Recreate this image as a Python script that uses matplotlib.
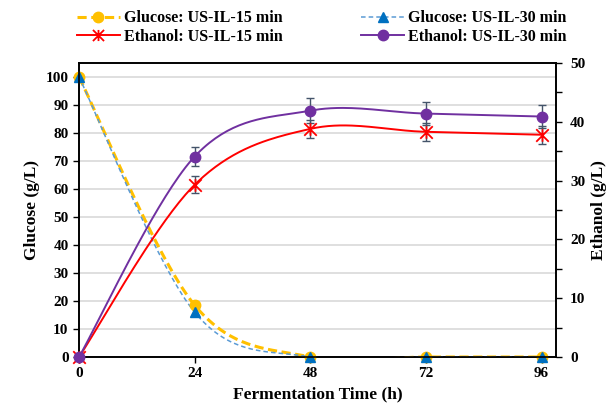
import numpy as np
import matplotlib.pyplot as plt
from matplotlib.path import Path

plt.rcParams['font.family'] = ['Liberation Serif', 'DejaVu Serif']
plt.rcParams['font.weight'] = 'bold'

time_h = [0, 24, 48, 72, 96]
glucose_15 = [100, 18.5, 0, 0, 0]
glucose_30 = [100, 16, 0, 0, 0]
ethanol_15 = [0, 29.3, 38.8, 38.3, 37.8]
ethanol_30 = [0, 34.1, 41.9, 41.4, 40.9]
ethanol_15_err = [0, 1.4, 1.5, 1.5, 1.5]
ethanol_30_err = [0, 1.6, 2.1, 2.0, 2.0]


def smooth(x, y, n=40):
    # excel-like smoothed line (catmull-rom through the points)
    p = np.column_stack([x, y]).astype(float)
    p = np.vstack([p[0], p, p[-1]])
    out = []
    t = np.linspace(0, 1, n)[:, None]
    for i in range(1, len(p) - 2):
        b0 = p[i]
        b3 = p[i + 1]
        b1 = b0 + (p[i + 1] - p[i - 1]) / 6
        b2 = b3 - (p[i + 2] - p[i]) / 6
        seg = (1 - t) ** 3 * b0 + 3 * (1 - t) ** 2 * t * b1 + 3 * (1 - t) * t ** 2 * b2 + t ** 3 * b3
        out.append(seg)
    out = np.vstack(out)
    return out[:, 0], out[:, 1]


# excel style "star" marker: X plus a vertical stroke
star = Path([(-1, -1), (1, 1), (-1, 1), (1, -1), (0, -1), (0, 1)],
            [Path.MOVETO, Path.LINETO, Path.MOVETO, Path.LINETO, Path.MOVETO, Path.LINETO])

fig = plt.figure(figsize=(6.14, 4.05), dpi=100)
ax = fig.add_axes([0.1287, 0.1185, 0.777, 0.7259])
ax2 = ax.twinx()

ax.set_xlim(0, 99)
ax.set_ylim(0, 105)
ax2.set_ylim(0, 50)

ax.set_yticks(range(0, 101, 10))
ax.yaxis.grid(True, color='#d9d9d9', lw=1.2)
ax.set_axisbelow(True)
ax.set_xticks(time_h)
ax2.set_yticks(range(0, 51, 10))
ax2.set_yticks(range(5, 50, 10), minor=True)

for a in (ax, ax2):
    a.tick_params(labelsize=11, width=1, length=4, direction='out')
    for s in a.spines.values():
        s.set_linewidth(1.2)
ax2.tick_params(which='major', pad=6)
ax2.tick_params(which='minor', length=4, width=1)

# glucose on left axis
xs, ys = smooth(time_h, glucose_15)
ax.plot(xs, ys, '--', color='#FFC000', lw=2.2, dashes=(3, 1.5), zorder=3)
ax.plot(time_h, glucose_15, 'o', color='#FFC000', ms=7.5, clip_on=False, zorder=4)
xs, ys = smooth(time_h, glucose_30)
ax.plot(xs, ys, '--', color='#5B9BD5', lw=1.1, dashes=(3, 2), zorder=3)
ax.plot(time_h, glucose_30, '^', color='#0070C0', ms=7.5, clip_on=False, zorder=5)

# ethanol on right axis
xs, ys = smooth(time_h, ethanol_15)
ax2.plot(xs, ys, '-', color='#FF0000', lw=1.4, zorder=3)
ax2.errorbar(time_h, ethanol_15, yerr=ethanol_15_err, fmt='none', ecolor='#44546A',
             elinewidth=1, capsize=3, capthick=1, zorder=2)
ax2.plot(time_h, ethanol_15, marker=star, ls='none', color='#FF0000', mec='#FF0000',
         ms=9, mew=1.3, clip_on=False, zorder=4)
xs, ys = smooth(time_h, ethanol_30)
ax2.plot(xs, ys, '-', color='#7030A0', lw=1.4, zorder=3)
ax2.errorbar(time_h, ethanol_30, yerr=ethanol_30_err, fmt='none', ecolor='#44546A',
             elinewidth=1, capsize=3, capthick=1, zorder=2)
ax2.plot(time_h, ethanol_30, 'o', color='#7030A0', ms=7.5, clip_on=False, zorder=4)

ax.set_xlabel('Fermentation Time (h)', fontsize=12.5, fontweight='bold')
ax.set_ylabel('Glucose (g/L)', fontsize=12.5, fontweight='bold')
ax2.set_ylabel('Ethanol (g/L)', fontsize=12.5, fontweight='bold')

h1 = plt.Line2D([], [], ls='--', dashes=(3, 1.5), color='#FFC000', lw=2.2, marker='o', ms=7.5)
h2 = plt.Line2D([], [], ls='-', color='#FF0000', lw=1.4, marker=star, ms=8, mew=1.3)
h3 = plt.Line2D([], [], ls='--', dashes=(3, 2), color='#5B9BD5', lw=1.1, marker='^', ms=7,
                mfc='#0070C0', mec='#0070C0')
h4 = plt.Line2D([], [], ls='-', color='#7030A0', lw=1.4, marker='o', ms=7.5)
fig.legend([h1, h2, h3, h4],
           ['Glucose: US-IL-15 min', 'Ethanol: US-IL-15 min',
            'Glucose: US-IL-30 min', 'Ethanol: US-IL-30 min'],
           ncol=2, loc='upper center', bbox_to_anchor=(0.524, 1.01), frameon=False,
           prop={'size': 11.5, 'weight': 'bold'}, handlelength=2.7, columnspacing=4.9,
           handletextpad=0.25, labelspacing=0.15)

fig.savefig('out.png', dpi=100)
